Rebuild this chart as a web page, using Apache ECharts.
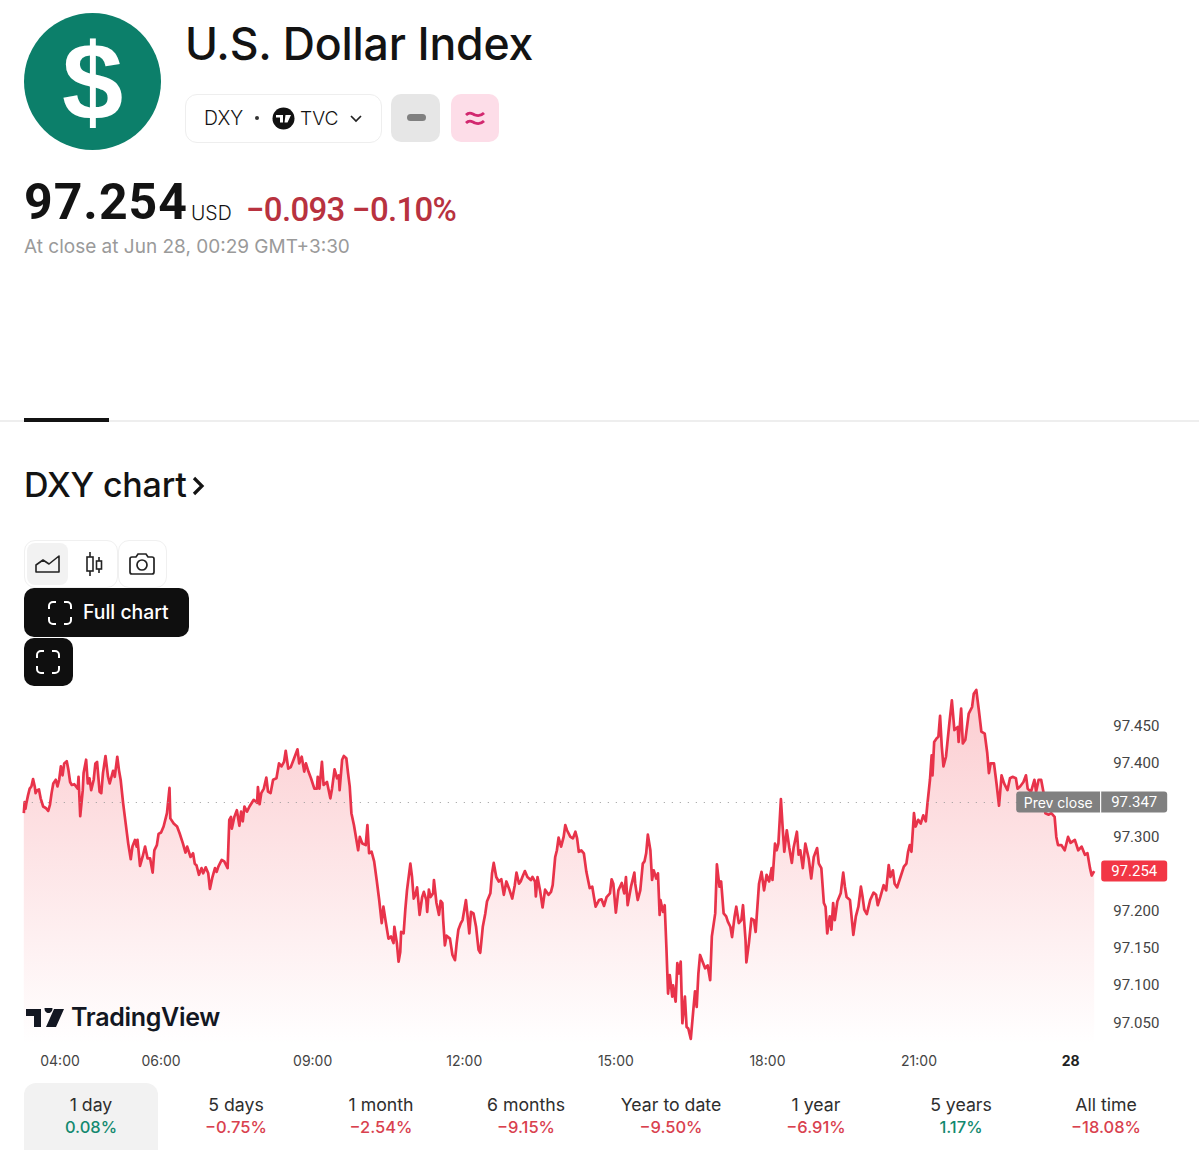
<!DOCTYPE html>
<html lang="en">
<head>
<meta charset="UTF-8">
<title>U.S. Dollar Index</title>
<script src="https://cdn.jsdelivr.net/npm/echarts@6/dist/echarts.min.js"></script>
<style>
    html, body { margin: 0; padding: 0; background: #fff; }
    body { position: relative; width: 1199px; height: 1150px; overflow: hidden; font-family: Inter, "Noto Sans", sans-serif; color: #131313; }
    .abs { position: absolute; white-space: nowrap; }
    .tab { position: absolute; top: 1083px; width: 134px; height: 67px; text-align: center; }
    .tab .name { position: absolute; left: 0; right: 0; top: 11px; font-size: 17.7px; color: #2e2e2e; }
    .tab .pct { position: absolute; left: 0; right: 0; top: 34px; font-size: 16.5px; font-weight: 500; }
    #main { position: absolute; left: 0; top: 660px; width: 1199px; height: 415px; }
</style>
</head>
<body>

<!-- header -->
<div class="abs" style="left:24px;top:13px;width:137px;height:137px;border-radius:50%;background:#0c7f6a;"></div>
<div class="abs" style="left:24px;top:13px;width:137px;height:137px;text-align:center;color:#fff;font:bold 110px/137px 'Liberation Sans';">$</div>
<div class="abs" style="left:185px;top:17px;font-size:44.6px;font-weight:500;letter-spacing:-0.2px;">U.S. Dollar Index</div>

<div class="abs" style="left:185px;top:94px;width:195px;height:47px;border:1px solid #eee;border-radius:12px;"></div>
<div class="abs" style="left:204px;top:106px;font-size:19.4px;font-weight:300;">DXY</div>
<div class="abs" style="left:255px;top:116px;width:4px;height:4px;border-radius:50%;background:#333;"></div>
<svg class="abs" style="left:272px;top:107px;" width="23" height="23" viewBox="0 0 23 23">
    <circle cx="11.5" cy="11.5" r="11" fill="#111"/>
    <path d="M4 8h7v7.500h-3v-5h-4zM13.500 8h5.500l-3.500 7.500h-3z" fill="#fff"/>
</svg>
<div class="abs" style="left:300px;top:106px;font-size:19.2px;font-weight:300;">TVC</div>
<svg class="abs" style="left:349px;top:114px;" width="14" height="10" viewBox="0 0 14 10"><path d="M2 2l5 5 5-5" fill="none" stroke="#222" stroke-width="1.700"/></svg>
<div class="abs" style="left:391px;top:94px;width:49px;height:48px;border-radius:10px;background:#e6e6e6;"></div>
<div class="abs" style="left:407px;top:114px;width:19px;height:7px;border-radius:4px;background:#808080;"></div>
<div class="abs" style="left:451px;top:94px;width:48px;height:48px;border-radius:10px;background:#fddde8;"></div>
<svg class="abs" style="left:463px;top:107px;" width="24" height="22" viewBox="0 0 24 22">
    <path d="M3 8c4-4 6-1 9 0s6 1 9-2M3 16c4-4 6-1 9 0s6 1 9-2" fill="none" stroke="#d2286f" stroke-width="2.800"/>
</svg>

<div class="abs" style="left:24px;top:173px;font:bold 50px Roboto;letter-spacing:1px;color:#131313;">97.254</div>
<div class="abs" style="left:191px;top:201px;font-size:19.5px;font-weight:300;">USD</div>
<div class="abs" style="left:246px;top:190px;font:500 33px Roboto;letter-spacing:-0.7px;color:#b8323f;">−0.093 −0.10%</div>
<div class="abs" style="left:24px;top:235px;font-size:19px;color:#9a9a9a;">At close at Jun 28, 00:29 GMT+3:30</div>

<div class="abs" style="left:0;top:420px;width:1199px;height:2px;background:#eee;"></div>
<div class="abs" style="left:24px;top:418px;width:85px;height:4px;background:#131313;"></div>

<div class="abs" style="left:24px;top:464px;font-size:34px;font-weight:500;letter-spacing:-0.2px;">DXY chart</div>
<svg class="abs" style="left:190px;top:474px;" width="16" height="24" viewBox="0 0 16 24"><path d="M4 4l8 8-8 8" fill="none" stroke="#131313" stroke-width="3.200"/></svg>

<!-- toolbar -->
<div class="abs" style="left:24px;top:540px;width:92px;height:46px;border:1px solid #f0f0f0;border-radius:11px;"></div>
<div class="abs" style="left:27px;top:543px;width:41px;height:42px;border-radius:8px;background:#f2f2f2;"></div>
<svg class="abs" style="left:34px;top:554px;" width="27" height="20" viewBox="0 0 27 20"><path d="M2 18V11l7-5 6 4 10-8v16z" fill="none" stroke="#222" stroke-width="1.600" stroke-linejoin="round"/></svg>
<svg class="abs" style="left:84px;top:551px;" width="20" height="26" viewBox="0 0 20 26">
    <path d="M6 1v24M15 6v16" stroke="#222" stroke-width="1.600"/>
    <rect x="3" y="6" width="6" height="14" fill="#fff" stroke="#222" stroke-width="1.600"/>
    <rect x="12.500" y="10" width="5" height="8" fill="#fff" stroke="#222" stroke-width="1.600"/>
</svg>
<div class="abs" style="left:118px;top:540px;width:47px;height:46px;border:1px solid #f0f0f0;border-radius:11px;"></div>
<svg class="abs" style="left:128px;top:552px;" width="28" height="24" viewBox="0 0 28 24">
    <path d="M2 7a2 2 0 0 1 2-2h4l2-3h8l2 3h4a2 2 0 0 1 2 2v13a2 2 0 0 1-2 2H4a2 2 0 0 1-2-2z" fill="none" stroke="#222" stroke-width="1.700"/>
    <circle cx="14" cy="13" r="5" fill="none" stroke="#222" stroke-width="1.700"/>
</svg>
<div class="abs" style="left:24px;top:588px;width:165px;height:49px;border-radius:10px;background:#0f0f0f;"></div>
<svg class="abs" style="left:47px;top:600px;" width="26" height="26" viewBox="0 0 26 26"><path d="M2 9V6a4 4 0 0 1 4-4h3M17 2h3a4 4 0 0 1 4 4v3M24 17v3a4 4 0 0 1-4 4h-3M9 24H6a4 4 0 0 1-4-4v-3" fill="none" stroke="#fff" stroke-width="2"/></svg>
<div class="abs" style="left:83px;top:600px;font-size:19.4px;font-weight:500;color:#fff;">Full chart</div>
<div class="abs" style="left:24px;top:638px;width:49px;height:48px;border-radius:10px;background:#0f0f0f;"></div>
<svg class="abs" style="left:35px;top:649px;" width="26" height="26" viewBox="0 0 26 26"><path d="M2 9V6a4 4 0 0 1 4-4h3M17 2h3a4 4 0 0 1 4 4v3M24 17v3a4 4 0 0 1-4 4h-3M9 24H6a4 4 0 0 1-4-4v-3" fill="none" stroke="#fff" stroke-width="2"/></svg>

<div id="main"></div>

<!-- watermark -->
<svg class="abs" style="left:26px;top:1008px;" width="38" height="20" viewBox="0 0 38 20">
    <path d="M0 1h15v18h-7V8H0zM18.500 1a4 4 0 1 1 0 .01zM28 1h10l-8 18H20z" fill="#131722"/>
</svg>
<div class="abs" style="left:71px;top:1002px;font-size:25px;font-weight:600;color:#131722;letter-spacing:-0.3px;">TradingView</div>

<div id="tabs"></div>

<script type="text/javascript">
    // minutes after midnight on Jun 27
    var times = [
        197, 198, 199, 200, 202, 204, 206, 208, 210, 211,
        213, 215, 217, 220, 223, 226, 228, 230, 232, 235,
        237, 239, 241, 243, 245, 248, 250, 252, 254, 257,
        261, 262, 264, 267, 268, 271, 273, 275, 277, 280,
        282, 284, 287, 289, 291, 294, 297, 299, 303, 305,
        308, 310, 312, 315, 318, 321, 324, 326, 329, 331,
        332, 335, 338, 341, 344, 347, 350, 352, 355, 357,
        360, 363, 367, 370, 371, 375, 379, 382, 386, 389,
        391, 395, 398, 400, 402, 405, 408, 410, 413, 416,
        418, 421, 424, 426, 428, 432, 435, 439, 441, 443,
        444, 447, 450, 453, 455, 457, 459, 462, 465, 470,
        474, 475, 477, 479, 482, 485, 487, 490, 493, 497,
        500, 503, 506, 508, 511, 514, 518, 522, 524, 527,
        530, 532, 535, 538, 542, 545, 546, 548, 551, 553,
        557, 561, 563, 566, 569, 571, 572, 575, 577, 580,
        582, 584, 586, 589, 594, 596, 599, 603, 605, 607,
        610, 613, 616, 619, 622, 624, 627, 630, 633, 636,
        637, 640, 642, 644, 645, 648, 650, 652, 656, 658,
        660, 662, 664, 667, 670, 672, 675, 676, 678, 680,
        683, 684, 687, 690, 692, 694, 695, 697, 699, 703,
        706, 709, 711, 713, 716, 718, 722, 724, 726, 728,
        731, 734, 737, 739, 742, 745, 747, 751, 753, 755,
        758, 761, 764, 767, 770, 773, 777, 780, 782, 785,
        787, 789, 792, 795, 799, 801, 804, 805, 807, 810,
        813, 816, 820, 823, 825, 828, 830, 832, 835, 838,
        840, 842, 846, 849, 852, 854, 856, 859, 862, 865,
        869, 872, 874, 876, 880, 883, 886, 889, 893, 895,
        897, 900, 903, 907, 910, 912, 914, 918, 922, 923,
        926, 929, 932, 934, 936, 938, 941, 943, 945, 948,
        950, 952, 953, 956, 958, 960, 962, 964, 967, 968,
        971, 973, 975, 977, 979, 982, 984, 986, 989, 992,
        994, 996, 998, 1000, 1003, 1006, 1009, 1012, 1014, 1018,
        1020, 1023, 1025, 1028, 1031, 1033, 1036, 1038, 1041, 1043,
        1046, 1049, 1051, 1054, 1055, 1058, 1061, 1064, 1066, 1070,
        1073, 1076, 1079, 1082, 1085, 1086, 1089, 1091, 1093, 1096,
        1098, 1100, 1103, 1106, 1109, 1111, 1115, 1117, 1119, 1122,
        1125, 1129, 1132, 1135, 1139, 1141, 1144, 1147, 1149, 1151,
        1154, 1156, 1158, 1160, 1163, 1167, 1170, 1172, 1174, 1178,
        1182, 1185, 1188, 1191, 1193, 1195, 1198, 1202, 1206, 1209,
        1211, 1214, 1218, 1221, 1224, 1226, 1229, 1231, 1234, 1238,
        1242, 1245, 1247, 1249, 1251, 1254, 1256, 1259, 1262, 1265,
        1268, 1270, 1273, 1275, 1276, 1278, 1281, 1283, 1285, 1287,
        1289, 1292, 1296, 1299, 1302, 1306, 1307, 1310, 1312, 1315,
        1319, 1323, 1325, 1328, 1331, 1334, 1338, 1341, 1343, 1345,
        1349, 1352, 1355, 1358, 1361, 1365, 1368, 1371, 1375, 1377,
        1380, 1384, 1387, 1389, 1393, 1397, 1399, 1402, 1405, 1408,
        1410, 1414, 1417, 1421, 1423, 1425, 1429, 1433, 1437, 1440,
        1445, 1449, 1453, 1457, 1460, 1463, 1465, 1468
    ];
    var prices = [
        97.332, 97.347, 97.338, 97.345, 97.356, 97.365, 97.368, 97.378, 97.368, 97.359,
        97.363, 97.364, 97.352, 97.341, 97.339, 97.335, 97.343, 97.359, 97.372, 97.377,
        97.368, 97.377, 97.395, 97.383, 97.399, 97.402, 97.390, 97.374, 97.370, 97.371,
        97.365, 97.381, 97.328, 97.363, 97.386, 97.404, 97.372, 97.379, 97.363, 97.377,
        97.399, 97.401, 97.361, 97.359, 97.386, 97.409, 97.381, 97.372, 97.389, 97.381,
        97.408, 97.390, 97.377, 97.345, 97.318, 97.291, 97.270, 97.287, 97.296, 97.287,
        97.296, 97.261, 97.273, 97.287, 97.271, 97.271, 97.252, 97.282, 97.289, 97.304,
        97.306, 97.314, 97.332, 97.366, 97.325, 97.318, 97.314, 97.305, 97.291, 97.279,
        97.287, 97.273, 97.278, 97.264, 97.262, 97.249, 97.258, 97.251, 97.259, 97.251,
        97.230, 97.246, 97.258, 97.253, 97.260, 97.269, 97.267, 97.258, 97.323, 97.327,
        97.311, 97.327, 97.336, 97.315, 97.334, 97.321, 97.341, 97.334, 97.341, 97.350,
        97.346, 97.367, 97.344, 97.359, 97.365, 97.380, 97.361, 97.359, 97.377, 97.379,
        97.399, 97.395, 97.401, 97.416, 97.392, 97.394, 97.406, 97.418, 97.399, 97.408,
        97.388, 97.399, 97.388, 97.379, 97.365, 97.365, 97.381, 97.365, 97.401, 97.370,
        97.374, 97.352, 97.365, 97.391, 97.379, 97.383, 97.363, 97.404, 97.409, 97.406,
        97.386, 97.368, 97.332, 97.316, 97.282, 97.300, 97.291, 97.289, 97.316, 97.278,
        97.280, 97.267, 97.242, 97.215, 97.184, 97.206, 97.184, 97.163, 97.166, 97.157,
        97.179, 97.157, 97.132, 97.145, 97.172, 97.170, 97.202, 97.228, 97.264, 97.246,
        97.217, 97.222, 97.232, 97.195, 97.219, 97.226, 97.215, 97.199, 97.229, 97.219,
        97.224, 97.242, 97.211, 97.195, 97.214, 97.211, 97.188, 97.154, 97.167, 97.163,
        97.141, 97.134, 97.157, 97.175, 97.184, 97.188, 97.215, 97.193, 97.170, 97.199,
        97.197, 97.179, 97.148, 97.144, 97.179, 97.197, 97.213, 97.224, 97.251, 97.265,
        97.246, 97.240, 97.243, 97.222, 97.240, 97.231, 97.217, 97.235, 97.252, 97.237,
        97.240, 97.246, 97.254, 97.246, 97.242, 97.246, 97.240, 97.220, 97.246, 97.228,
        97.205, 97.229, 97.222, 97.226, 97.235, 97.273, 97.282, 97.299, 97.287, 97.300,
        97.316, 97.309, 97.300, 97.298, 97.307, 97.298, 97.280, 97.282, 97.278, 97.253,
        97.231, 97.233, 97.219, 97.206, 97.215, 97.216, 97.207, 97.219, 97.224, 97.243,
        97.237, 97.198, 97.228, 97.238, 97.224, 97.246, 97.208, 97.233, 97.252, 97.237,
        97.215, 97.228, 97.264, 97.267, 97.278, 97.303, 97.282, 97.242, 97.255, 97.244,
        97.251, 97.195, 97.215, 97.199, 97.208, 97.152, 97.089, 97.114, 97.085, 97.100,
        97.078, 97.130, 97.116, 97.132, 97.049, 97.085, 97.044, 97.042, 97.028, 97.067,
        97.092, 97.071, 97.116, 97.141, 97.132, 97.123, 97.127, 97.107, 97.166, 97.197,
        97.263, 97.233, 97.240, 97.197, 97.193, 97.186, 97.179, 97.165, 97.193, 97.206,
        97.184, 97.188, 97.208, 97.161, 97.131, 97.157, 97.190, 97.188, 97.172, 97.237,
        97.253, 97.228, 97.249, 97.240, 97.258, 97.242, 97.291, 97.282, 97.291, 97.351,
        97.314, 97.280, 97.309, 97.285, 97.265, 97.285, 97.307, 97.276, 97.282, 97.258,
        97.291, 97.271, 97.244, 97.273, 97.285, 97.264, 97.258, 97.211, 97.206, 97.170,
        97.193, 97.175, 97.211, 97.188, 97.213, 97.224, 97.252, 97.233, 97.219, 97.215,
        97.168, 97.193, 97.206, 97.233, 97.219, 97.202, 97.196, 97.215, 97.225, 97.222,
        97.208, 97.219, 97.235, 97.228, 97.262, 97.246, 97.255, 97.237, 97.232, 97.246,
        97.260, 97.264, 97.280, 97.289, 97.280, 97.332, 97.314, 97.323, 97.318, 97.329,
        97.321, 97.345, 97.377, 97.410, 97.383, 97.428, 97.433, 97.435, 97.463, 97.422,
        97.395, 97.408, 97.453, 97.484, 97.444, 97.448, 97.428, 97.473, 97.426, 97.431,
        97.466, 97.475, 97.493, 97.498, 97.471, 97.442, 97.439, 97.413, 97.386, 97.399,
        97.399, 97.372, 97.342, 97.383, 97.372, 97.363, 97.379, 97.381, 97.379, 97.365,
        97.368, 97.374, 97.383, 97.365, 97.361, 97.377, 97.361, 97.377, 97.377, 97.359,
        97.332, 97.330, 97.332, 97.327, 97.300, 97.289, 97.289, 97.282, 97.300, 97.292,
        97.296, 97.282, 97.287, 97.276, 97.278, 97.258, 97.248, 97.254
    ];
    var prevClose = 97.347;
    var lastPrice = 97.254;

    var tickMinutes = [240, 360, 540, 720, 900, 1080, 1260, 1440];
    var tickLabels = ['04:00', '06:00', '09:00', '12:00', '15:00', '18:00', '21:00', '28'];
    var priceTicks = [97.05, 97.10, 97.15, 97.20, 97.30, 97.40, 97.45];

    var tabNames = ['1 day', '5 days', '1 month', '6 months', 'Year to date', '1 year', '5 years', 'All time'];
    var tabChanges = ['0.08%', '−0.75%', '−2.54%', '−9.15%', '−9.50%', '−6.91%', '1.17%', '−18.08%'];

    var lineData = times.map(function (t, i) { return [t, prices[i]]; });

    var tabsHtml = '';
    for (var i = 0; i < tabNames.length; i++) {
        var up = tabChanges[i].charAt(0) !== '−';
        tabsHtml += '<div class="tab" style="left:' + (24 + i * 145) + 'px;' +
            (i === 0 ? 'background:#f2f2f2;border-radius:12px 12px 0 0;' : '') + '">' +
            '<div class="name">' + tabNames[i] + '</div>' +
            '<div class="pct" style="color:' + (up ? '#13896f' : '#d9414e') + '">' + tabChanges[i] + '</div></div>';
    }
    document.getElementById('tabs').innerHTML = tabsHtml;

    var option = {
        animation: false,
        textStyle: { fontFamily: 'Inter' },
        grid: { left: 23.8, right: 104.8, top: 13.6, bottom: 30.2 },
        xAxis: {
            type: 'value',
            min: 197,
            max: 1468,
            axisLine: { show: false },
            axisTick: { show: false },
            splitLine: { show: false },
            axisLabel: {
                customValues: tickMinutes,
                margin: 9,
                fontSize: 14,
                color: '#444',
                hideOverlap: false,
                showMinLabel: true,
                showMaxLabel: true,
                formatter: function (v) {
                    var label = tickLabels[tickMinutes.indexOf(v)];
                    return label === '28' ? '{day|28}' : label;
                },
                rich: { day: { fontSize: 14, fontWeight: 'bold', color: '#222', fontFamily: 'Inter' } }
            }
        },
        yAxis: {
            type: 'value',
            position: 'right',
            min: 97.02,
            max: 97.52,
            axisLine: { show: false },
            axisTick: { show: false },
            splitLine: { show: false },
            axisLabel: {
                customValues: priceTicks,
                margin: 19,
                fontSize: 15,
                fontFamily: 'Roboto',
                color: '#444',
                formatter: function (v) { return v.toFixed(3); }
            }
        },
        series: [{
            type: 'line',
            data: lineData,
            showSymbol: false,
            silent: true,
            lineStyle: { color: '#e8334a', width: 2.7, join: 'round' },
            areaStyle: {
                origin: 'start',
                color: new echarts.graphic.LinearGradient(0, 0, 0, 1, [
                    { offset: 0, color: 'rgba(242,54,69,0.36)' },
                    { offset: 1, color: 'rgba(242,54,69,0)' }
                ])
            },
            markLine: {
                silent: true,
                symbol: 'none',
                animation: false,
                precision: 3,
                data: [
                    {
                        yAxis: prevClose,
                        lineStyle: { color: '#9a9a9a', type: [1, 7], width: 1 },
                        label: {
                            position: 'end',
                            distance: 73,
                            align: 'right',
                            formatter: '{a|Prev close}{s| }{b|' + prevClose.toFixed(3) + '}',
                            rich: {
                                a: { width: 84, height: 21, align: 'center', backgroundColor: '#808080', color: '#fff', fontSize: 14, fontFamily: 'Inter', borderRadius: [3, 0, 0, 3] },
                                s: { width: 1, height: 21, backgroundColor: '#fff', fontSize: 1 },
                                b: { width: 66, height: 21, align: 'center', backgroundColor: '#808080', color: '#fff', fontSize: 15, fontFamily: 'Roboto', borderRadius: [0, 3, 3, 0] }
                            }
                        }
                    },
                    {
                        yAxis: lastPrice,
                        lineStyle: { color: 'transparent' },
                        label: {
                            position: 'end',
                            distance: 7,
                            formatter: '{b|' + lastPrice.toFixed(3) + '}',
                            rich: {
                                b: { width: 66, height: 21, align: 'center', backgroundColor: '#f23645', color: '#fff', fontSize: 15, fontFamily: 'Roboto', borderRadius: 3 }
                            }
                        }
                    }
                ]
            }
        }]
    };

    var myChart = echarts.init(document.getElementById('main'), null, { renderer: 'svg' });
    myChart.setOption(option);
</script>
</body>
</html>
